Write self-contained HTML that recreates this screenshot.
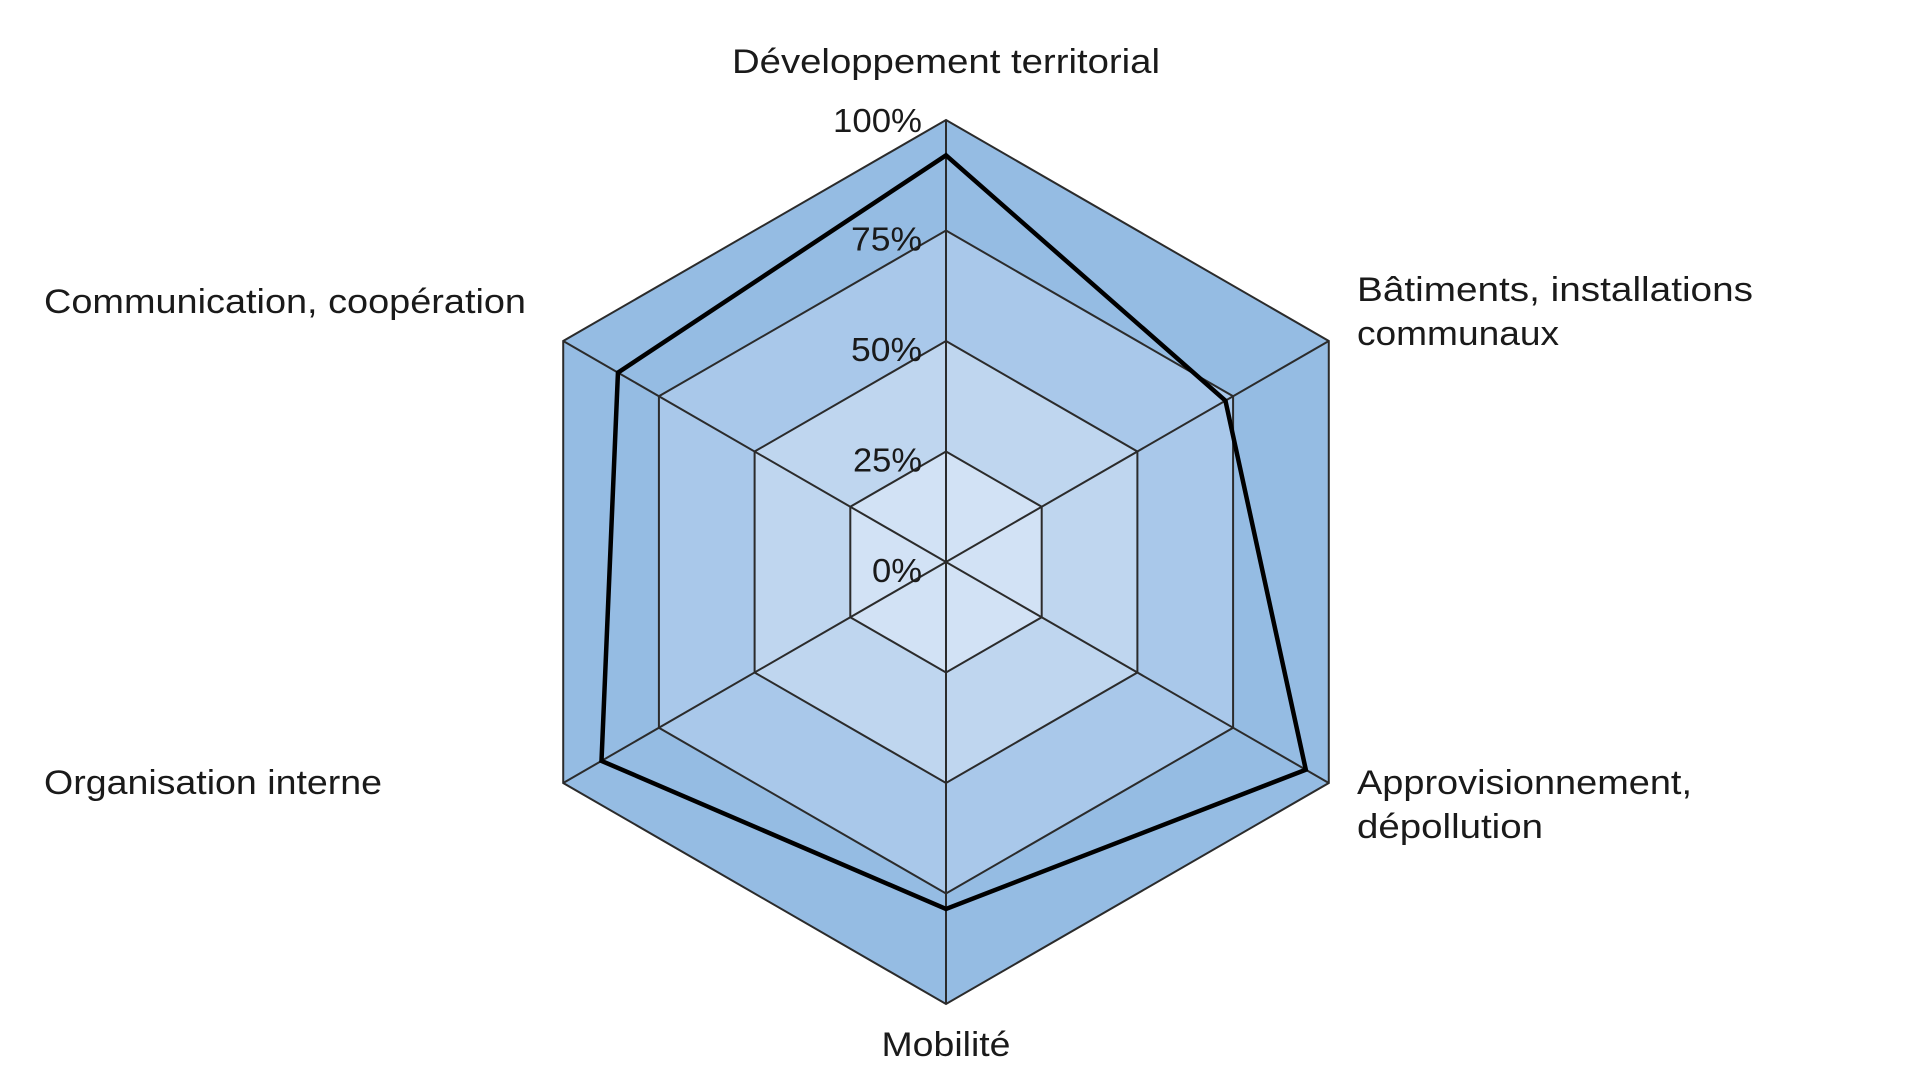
<!DOCTYPE html>
<html><head><meta charset="utf-8"><style>
html,body{margin:0;padding:0;background:#fff;width:1908px;height:1080px;overflow:hidden}
text{font-family:"Liberation Sans",sans-serif;fill:#1a1a1a}
</style></head><body>
<svg id="chart" width="1908" height="1080" viewBox="0 0 1908 1080" xmlns="http://www.w3.org/2000/svg"></svg>
<script>
const categories=["Développement territorial","Bâtiments, installations communaux","Approvisionnement, dépollution","Mobilité","Organisation interne","Communication, coopération"];
const values=[0.92,0.73,0.94,0.785,0.90,0.857];
const tickValues=[0,0.25,0.5,0.75,1];
const tickLabels=["0%","25%","50%","75%","100%"];
const cx=946,cy=562,R=442;
const svg=document.getElementById('chart');
const NS='http://www.w3.org/2000/svg';
function pt(i,v){const a=-Math.PI/2+i*2*Math.PI/categories.length;return [cx+R*v*Math.cos(a),cy+R*v*Math.sin(a)];}
function poly(v){return categories.map((c,i)=>pt(i,v).join(',')).join(' ');}
const fills=["#d2e2f5","#bfd6ef","#a9c8ea","#95bce3"];
for(let k=tickValues.length-1;k>=1;k--){
  const p=document.createElementNS(NS,'polygon');
  
  
  p.setAttribute('points',poly(tickValues[k]));
  p.setAttribute('fill',fills[k-1]);p.setAttribute('stroke','#2b2b2b');p.setAttribute('stroke-width','2');
  svg.appendChild(p);
}
categories.forEach((c,i)=>{
  const [x,y]=pt(i,1);
  const l=document.createElementNS(NS,'line');
  
  
  l.setAttribute('x1',cx);l.setAttribute('y1',cy);l.setAttribute('x2',x);l.setAttribute('y2',y);
  l.setAttribute('stroke','#2b2b2b');l.setAttribute('stroke-width','2');
  svg.appendChild(l);
});
const s=document.createElementNS(NS,'polygon');


s.setAttribute('points',values.map((v,i)=>pt(i,v).join(',')).join(' '));
s.setAttribute('fill','none');s.setAttribute('stroke','#000');s.setAttribute('stroke-width','4.5');s.setAttribute('stroke-linejoin','miter');
svg.appendChild(s);
// tick labels
const tickLen=[50,69,71,71,89];
tickValues.forEach((v,k)=>{
  const t=document.createElementNS(NS,'text');
  
  
  t.setAttribute('x',922);t.setAttribute('y',cy-R*v+20-(k==4?8:0));
  t.setAttribute('text-anchor','end');t.setAttribute('font-size','33');
  t.setAttribute('textLength',tickLen[k]);t.setAttribute('lengthAdjust','spacingAndGlyphs');
  t.textContent=tickLabels[k];svg.appendChild(t);
});
// category labels
const labelLines=[
 [["Développement territorial",946,73,428,"middle"]],
 [["Bâtiments, installations",1357,301,396,"start"],["communaux",1357,345,202,"start"]],
 [["Approvisionnement,",1357,794,335,"start"],["dépollution",1357,838,186,"start"]],
 [["Mobilité",946,1056,129,"middle"]],
 [["Organisation interne",44,794,338,"start"]],
 [["Communication, coopération",44,313,482,"start"]]
];
labelLines.forEach((lines,i)=>lines.forEach(L=>{
  const t=document.createElementNS(NS,'text');
  
  
  t.setAttribute('x',L[1]);t.setAttribute('y',L[2]);t.setAttribute('text-anchor',L[4]);
  t.setAttribute('font-size','34');t.setAttribute('textLength',L[3]);t.setAttribute('lengthAdjust','spacingAndGlyphs');
  t.textContent=L[0];svg.appendChild(t);
}));
</script>
</body></html>
